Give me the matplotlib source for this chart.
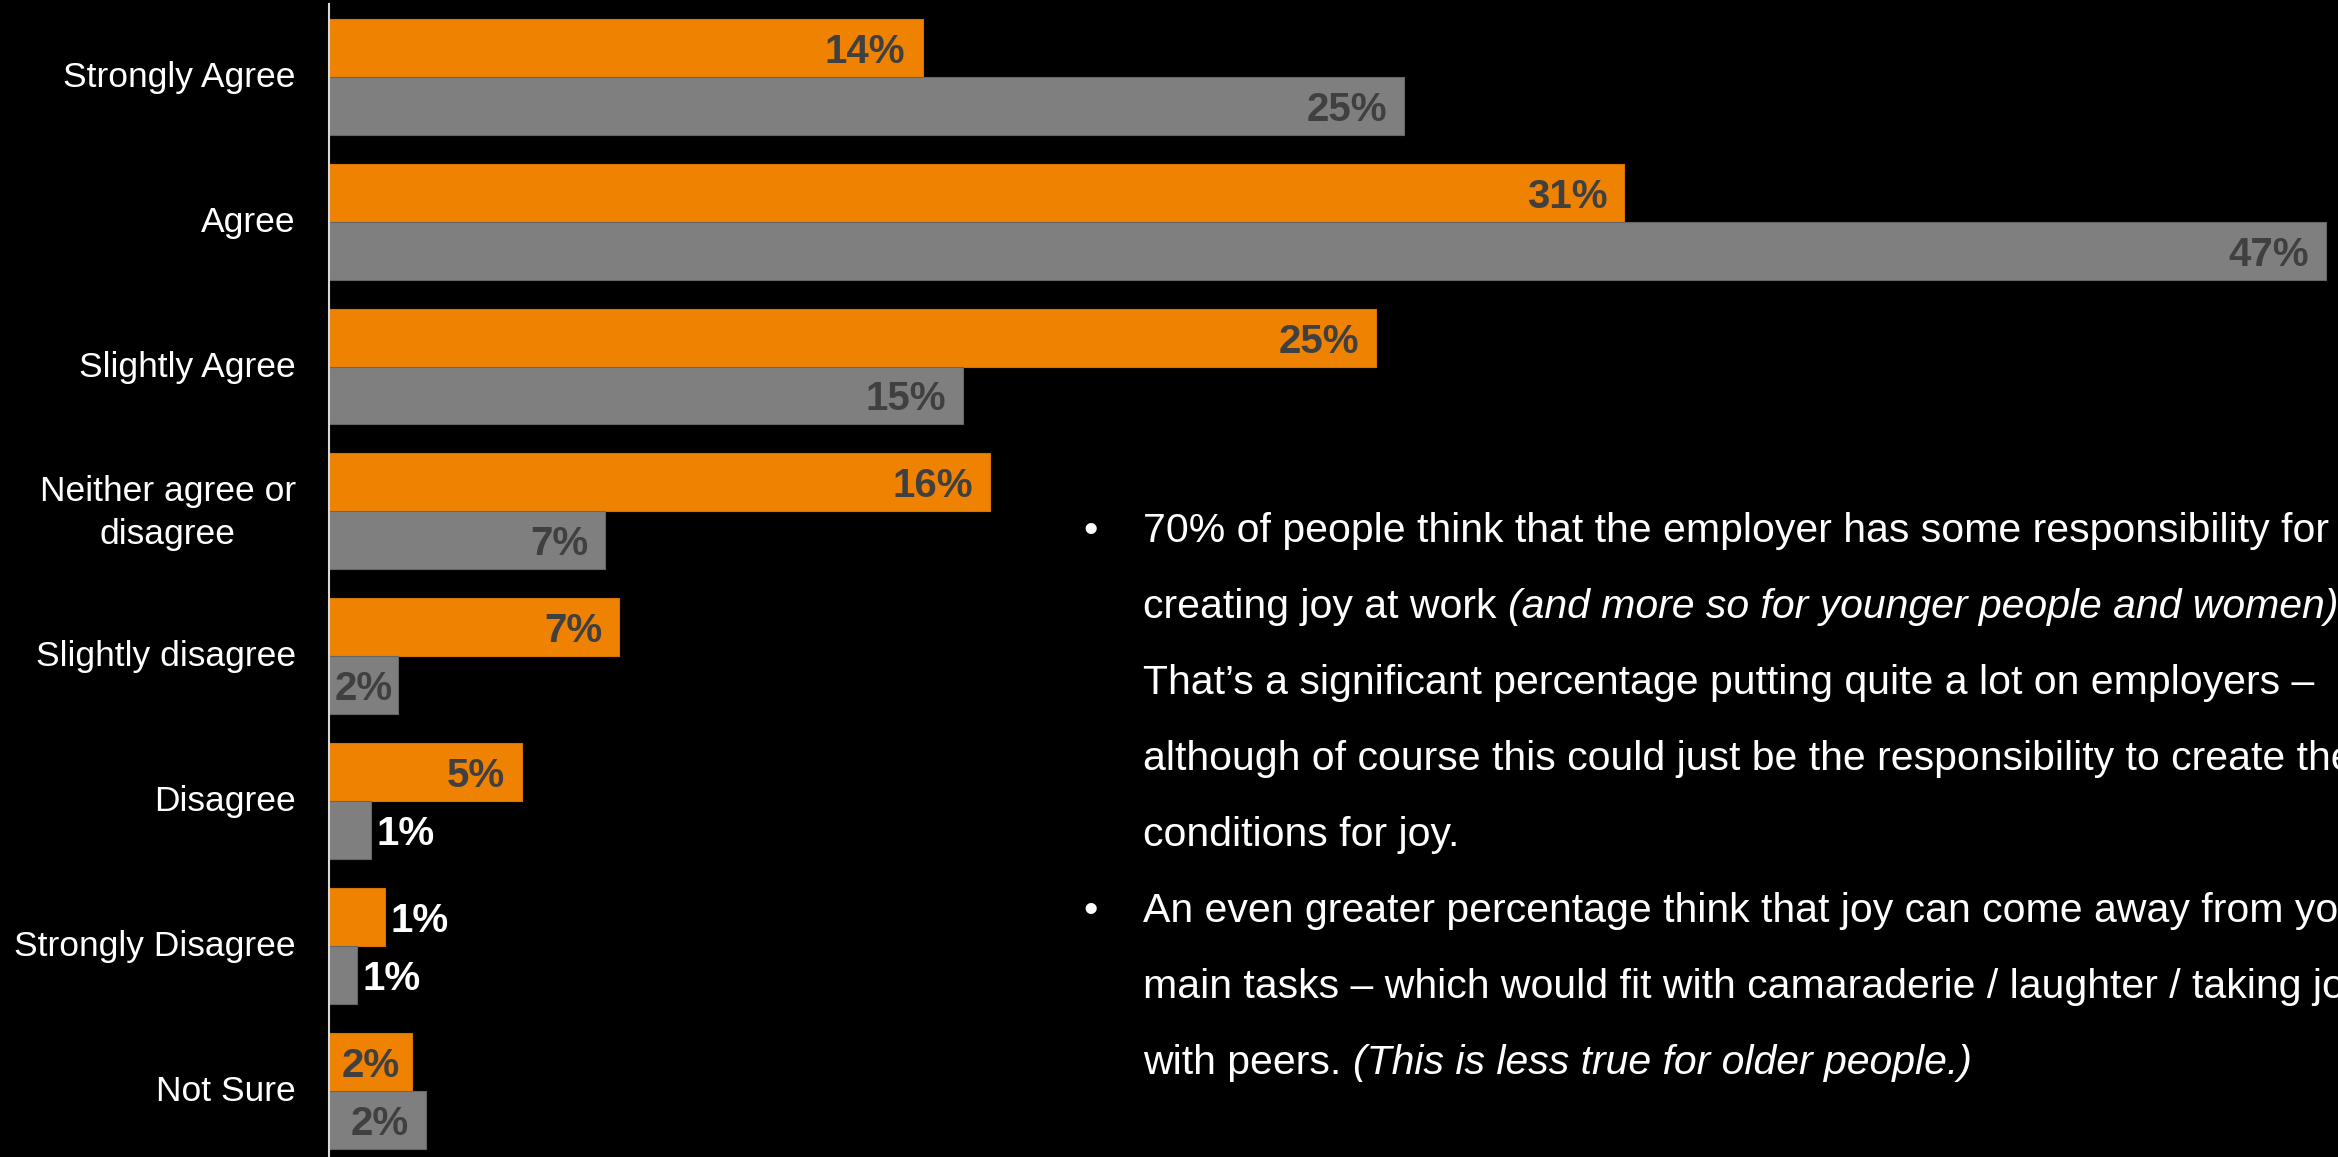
import matplotlib.pyplot as plt
import numpy as np

categories = ["Strongly Agree", "Agree", "Slightly Agree", "Neither agree or\ndisagree",
              "Slightly disagree", "Disagree", "Strongly Disagree", "Not Sure"]
orange_vals = [14.0, 30.55, 24.7, 15.6, 6.84, 4.55, 1.32, 1.96]
grey_vals = [25.35, 47.1, 14.95, 6.51, 1.63, 0.99, 0.66, 2.29]

bullets = [
    [("70% of people think that the employer has some responsibility for", "normal")],
    [("creating joy at work ", "normal"), ("(and more so for younger people and women)", "italic")],
    [("That\u2019s a significant percentage putting quite a lot on employers \u2013", "normal")],
    [("although of course this could just be the responsibility to create the", "normal")],
    [("conditions for joy.", "normal")],
    [("An even greater percentage think that joy can come away from your", "normal")],
    [("main tasks \u2013 which would fit with camaraderie / laughter / taking joy", "normal")],
    [("with peers. ", "normal"), ("(This is less true for older people.)", "italic")],
]
bullet_lines = [0, 5]

ORANGE = "#EF8200"
GREY = "#7F7F7F"
DARK = "#404040"
FONT = "Liberation Sans"

W, H = 2338, 1157
fig = plt.figure(figsize=(W / 100, H / 100), dpi=100, facecolor="black")
x_zero = 329
ax = fig.add_axes([x_zero / W, 0, 1 - x_zero / W, 1 - 4 / H], facecolor="black")

y = np.arange(len(categories))
bh = 0.4
ax.barh(y - bh / 2, orange_vals, height=bh, color=ORANGE, edgecolor="#D87400", linewidth=0.8)
ax.barh(y + bh / 2, grey_vals, height=bh, color=GREY, edgecolor="#666666", linewidth=0.8)

px_per_pct = 42.4
ax.set_xlim(0, (W - x_zero) / px_per_pct)
ax.set_ylim(7.456, -0.502)

for s in ["top", "right", "bottom"]:
    ax.spines[s].set_visible(False)
ax.spines["left"].set_color("#D9D9D9")
ax.spines["left"].set_linewidth(1.5)
ax.set_xticks([])

# category names sit a touch above the group centre
nudge = [-0.045 if "\n" in c else -0.02 for c in categories]
ax.set_yticks(y + np.array(nudge))
ax.set_yticklabels(categories, color="white", fontsize=25.5, family=FONT)
ax.tick_params(axis="y", length=0, pad=24)
for lbl in ax.get_yticklabels():
    lbl.set_multialignment("center")
    lbl.set_linespacing(1.38)

# value labels: inside end when they fit, centred when tight, outside for tiny bars
renderer = fig.canvas.get_renderer()
pad = 17 / px_per_pct
for vals, off in [(orange_vals, -bh / 2), (grey_vals, bh / 2)]:
    for i, v in enumerate(vals):
        txt = f"{v:.0f}%"
        yy = i + off
        if v < 1.5:
            ax.text(v + 0.12, yy, txt, color="white", ha="left", va="center_baseline",
                    fontsize=29, fontweight="bold", family=FONT)
            continue
        t = ax.text(v - pad, yy, txt, color=DARK, ha="right", va="center_baseline",
                    fontsize=29, fontweight="bold", family=FONT)
        bb = t.get_window_extent(renderer)
        if bb.x0 < x_zero + 15:
            t.set_x(v / 2)
            t.set_ha("center")

# commentary text
text_x, bullet_x = 1143, 1083
base0, pitch = 542, 76
body = dict(color="white", fontsize=29.5, family=FONT, va="baseline")
for k, parts in enumerate(bullets):
    yb = 1 - (base0 + pitch * k) / H
    if k in bullet_lines:
        fig.text(bullet_x / W, yb, "\u2022", **body)
    x = text_x
    for seg, style in parts:
        t = fig.text(x / W, yb, seg, style=style, **body)
        x = t.get_window_extent(renderer).x1

fig.savefig("out.png", dpi=100, facecolor="black")
